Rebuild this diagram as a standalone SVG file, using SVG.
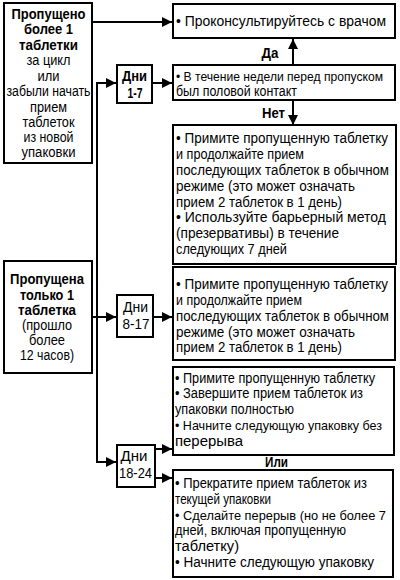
<svg xmlns="http://www.w3.org/2000/svg" width="400" height="580" viewBox="0 0 400 580">
<defs>
<marker id="ah" viewBox="0 0 10 10" refX="10" refY="5" markerWidth="10" markerHeight="10" markerUnits="userSpaceOnUse" orient="auto">
<path d="M0,0 L10,5 L0,10 z" fill="#000"/>
</marker>
<style>
.box{fill:#fff;stroke:#000;stroke-width:2}
.t{font-family:"Liberation Sans",Arial,sans-serif;font-size:14px;fill:#000}
.s{font-size:12.8px}
.c{text-anchor:middle}
.b{font-weight:bold}
.con{fill:none;stroke:#000;stroke-width:2}
</style>
</defs>
<rect width="400" height="580" fill="#fff"/>
<g id="connectors">
<path class="con" d="M92,22 H172" marker-end="url(#ah)"/>
<path class="con" d="M97,462 V83 H116" marker-end="url(#ah)"/>
<path class="con" d="M152,83 H172" marker-end="url(#ah)"/>
<path class="con" d="M293,65 V39" marker-end="url(#ah)"/>
<path class="con" d="M293,100 V125" marker-end="url(#ah)"/>
<path class="con" d="M92,317 H116" marker-end="url(#ah)"/>
<path class="con" d="M153,317 H172" marker-end="url(#ah)"/>
<path class="con" d="M96,462 H116" marker-end="url(#ah)"/>
<path class="con" d="M155,449 H172" marker-end="url(#ah)"/>
<path class="con" d="M155,478 H172" marker-end="url(#ah)"/>
<text class="t b c" x="270" y="58" textLength="17" lengthAdjust="spacingAndGlyphs">Да</text>
<text class="t b c" x="273.5" y="118" textLength="23" lengthAdjust="spacingAndGlyphs">Нет</text>
<text class="t b c" x="276.5" y="467" textLength="23" lengthAdjust="spacingAndGlyphs">Или</text>
</g>
<g id="missed-more">
<rect class="box" x="4" y="3" width="88" height="160"/>
<text class="t b c" x="48.5" y="19" textLength="74" lengthAdjust="spacingAndGlyphs">Пропущено</text>
<text class="t b c" x="48.5" y="34" textLength="49" lengthAdjust="spacingAndGlyphs">более 1</text>
<text class="t b c" x="48.5" y="50" textLength="59" lengthAdjust="spacingAndGlyphs">таблетки</text>
<text class="t c" x="48.5" y="65" textLength="44" lengthAdjust="spacingAndGlyphs">за цикл</text>
<text class="t c" x="48.5" y="81" textLength="22" lengthAdjust="spacingAndGlyphs">или</text>
<text class="t c" x="48.5" y="96" textLength="84" lengthAdjust="spacingAndGlyphs">забыли начать</text>
<text class="t c" x="48.5" y="112" textLength="37" lengthAdjust="spacingAndGlyphs">прием</text>
<text class="t c" x="48.5" y="127" textLength="52" lengthAdjust="spacingAndGlyphs">таблеток</text>
<text class="t c" x="48.5" y="142" textLength="50" lengthAdjust="spacingAndGlyphs">из новой</text>
<text class="t c" x="48.5" y="157" textLength="54" lengthAdjust="spacingAndGlyphs">упаковки</text>
</g>
<g id="missed-one">
<rect class="box" x="4" y="261" width="88" height="112"/>
<text class="t b c" x="47" y="284" textLength="74" lengthAdjust="spacingAndGlyphs">Пропущена</text>
<text class="t b c" x="47" y="300" textLength="54" lengthAdjust="spacingAndGlyphs">только 1</text>
<text class="t b c" x="47" y="315" textLength="58" lengthAdjust="spacingAndGlyphs">таблетка</text>
<text class="t c" x="47" y="330" textLength="50" lengthAdjust="spacingAndGlyphs">(прошло</text>
<text class="t c" x="47" y="345" textLength="36" lengthAdjust="spacingAndGlyphs">более</text>
<text class="t c" x="47" y="360" textLength="54" lengthAdjust="spacingAndGlyphs">12 часов)</text>
</g>
<g id="days-1-7">
<rect class="box" x="117" y="65" width="35" height="38"/>
<text class="t b c" x="134.5" y="81" textLength="25" lengthAdjust="spacingAndGlyphs">Дни</text>
<text class="t b c" x="135" y="98" textLength="15" lengthAdjust="spacingAndGlyphs">1-7</text>
</g>
<g id="days-8-17">
<rect class="box" x="117" y="295" width="36" height="42"/>
<text class="t c" x="135.5" y="312" textLength="25" lengthAdjust="spacingAndGlyphs">Дни</text>
<text class="t c" x="136" y="329" textLength="27" lengthAdjust="spacingAndGlyphs">8-17</text>
</g>
<g id="days-18-24">
<rect class="box" x="117" y="445" width="38" height="42"/>
<text class="t c" x="134" y="461" textLength="27" lengthAdjust="spacingAndGlyphs">Дни</text>
<text class="t c" x="135.5" y="478" textLength="33" lengthAdjust="spacingAndGlyphs">18-24</text>
</g>
<g id="consult">
<rect class="box" x="173" y="4" width="222" height="34"/>
<text class="t" x="176" y="26" textLength="210" lengthAdjust="spacingAndGlyphs">• Проконсультируйтесь с врачом</text>
</g>
<g id="contact">
<rect class="box" x="173" y="65" width="222" height="35"/>
<text class="t s" x="176" y="81" textLength="207" lengthAdjust="spacingAndGlyphs">• В течение недели перед пропуском</text>
<text class="t" x="176" y="96" textLength="121" lengthAdjust="spacingAndGlyphs">был половой контакт</text>
</g>
<g id="advice-1-7">
<rect class="box" x="173" y="125" width="223" height="139"/>
<text class="t" x="176" y="143" textLength="212" lengthAdjust="spacingAndGlyphs">• Примите пропущенную таблетку</text>
<text class="t" x="176" y="159" textLength="128" lengthAdjust="spacingAndGlyphs">и продолжайте прием</text>
<text class="t" x="176" y="175" textLength="213" lengthAdjust="spacingAndGlyphs">последующих таблеток в обычном</text>
<text class="t" x="176" y="191" textLength="179" lengthAdjust="spacingAndGlyphs">режиме (это может означать</text>
<text class="t" x="176" y="207" textLength="166" lengthAdjust="spacingAndGlyphs">прием 2 таблеток в 1 день)</text>
<text class="t" x="176" y="222" textLength="210" lengthAdjust="spacingAndGlyphs">• Используйте барьерный метод</text>
<text class="t" x="176" y="238" textLength="163" lengthAdjust="spacingAndGlyphs">(презервативы) в течение</text>
<text class="t" x="176" y="254" textLength="111" lengthAdjust="spacingAndGlyphs">следующих 7 дней</text>
</g>
<g id="advice-8-17">
<rect class="box" x="173" y="267" width="222" height="93"/>
<text class="t" x="176" y="289" textLength="212" lengthAdjust="spacingAndGlyphs">• Примите пропущенную таблетку</text>
<text class="t" x="176" y="305" textLength="126" lengthAdjust="spacingAndGlyphs">и продолжайте прием</text>
<text class="t" x="176" y="321" textLength="213" lengthAdjust="spacingAndGlyphs">последующих таблеток в обычном</text>
<text class="t" x="176" y="337" textLength="179" lengthAdjust="spacingAndGlyphs">режиме (это может означать</text>
<text class="t" x="176" y="352" textLength="166" lengthAdjust="spacingAndGlyphs">прием 2 таблеток в 1 день)</text>
</g>
<g id="advice-18-24-a">
<rect class="box" x="173" y="367" width="221" height="88"/>
<text class="t" x="175" y="383" textLength="200" lengthAdjust="spacingAndGlyphs">• Примите пропущенную таблетку</text>
<text class="t" x="175" y="398" textLength="188" lengthAdjust="spacingAndGlyphs">• Завершите прием таблеток из</text>
<text class="t" x="175" y="414" textLength="119" lengthAdjust="spacingAndGlyphs">упаковки полностью</text>
<text class="t s" x="175" y="430" textLength="207" lengthAdjust="spacingAndGlyphs">• Начните следующую упаковку без</text>
<text class="t" x="175" y="446" textLength="68" lengthAdjust="spacingAndGlyphs">перерыва</text>
</g>
<g id="advice-18-24-b">
<rect class="box" x="173" y="470" width="220" height="107"/>
<text class="t" x="175" y="488" textLength="192" lengthAdjust="spacingAndGlyphs">• Прекратите прием таблеток из</text>
<text class="t" x="175" y="504" textLength="96" lengthAdjust="spacingAndGlyphs">текущей упаковки</text>
<text class="t s" x="175" y="520" textLength="211" lengthAdjust="spacingAndGlyphs">• Сделайте перерыв (но не более 7</text>
<text class="t" x="175" y="535" textLength="171" lengthAdjust="spacingAndGlyphs">дней, включая пропущенную</text>
<text class="t" x="175" y="551" textLength="64" lengthAdjust="spacingAndGlyphs">таблетку)</text>
<text class="t" x="175" y="567" textLength="199" lengthAdjust="spacingAndGlyphs">• Начните следующую упаковку</text>
</g>
</svg>
